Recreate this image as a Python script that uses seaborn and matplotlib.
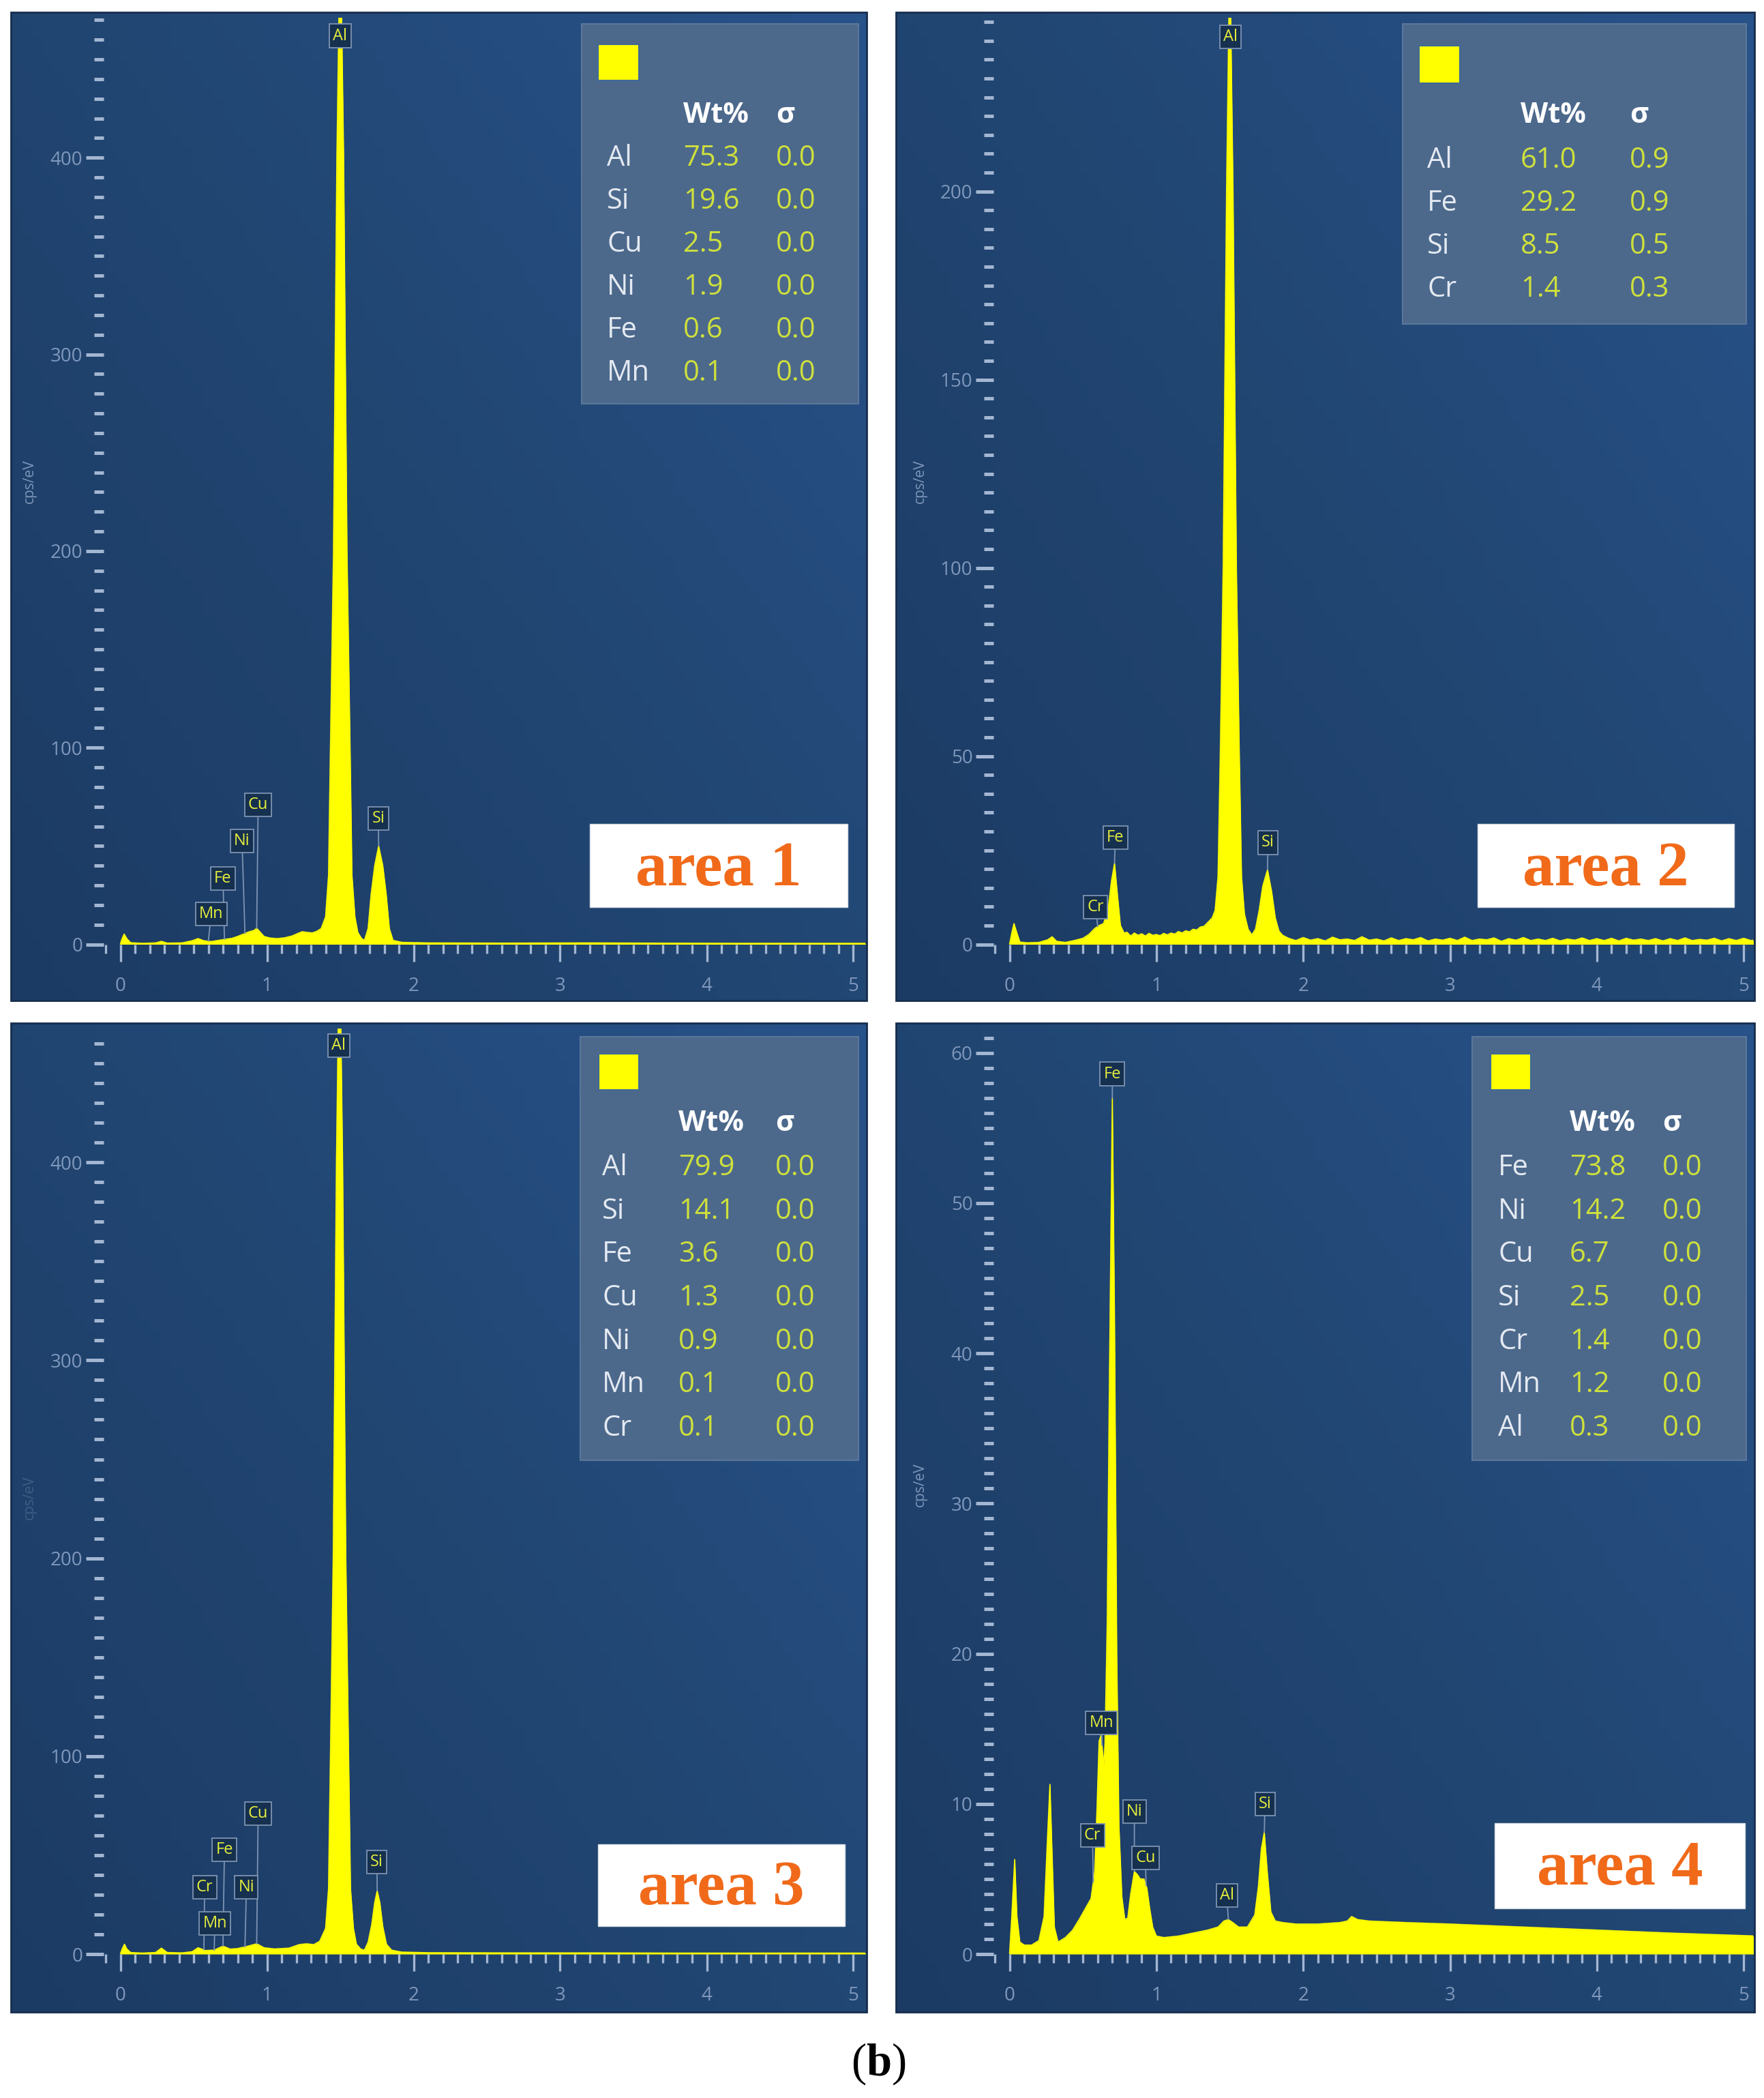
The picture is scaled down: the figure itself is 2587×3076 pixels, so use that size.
import numpy as np
import matplotlib
matplotlib.use("Agg")
import matplotlib.pyplot as plt
from matplotlib.patches import Rectangle
from matplotlib.ticker import MultipleLocator
from matplotlib.colors import LinearSegmentedColormap
import seaborn as sns

# EDS spectra of four areas (energy in keV, intensity in cps/eV)

# area 1
keV1 = [0.00, 0.01, 0.026, 0.045, 0.07, 0.15, 0.24, 0.28, 0.32, 0.42, 0.49, 0.53, 0.57, 0.62, 0.67,
        0.71, 0.76, 0.80, 0.83, 0.86, 0.88, 0.91, 0.93, 0.95, 0.98, 1.02, 1.07, 1.12, 1.17, 1.21,
        1.24, 1.28, 1.31, 1.34, 1.37, 1.40, 1.42, 1.433, 1.454, 1.477, 1.50, 1.523, 1.546, 1.567, 1.58,
        1.60, 1.62, 1.645, 1.665, 1.69, 1.71, 1.735, 1.762, 1.79, 1.814, 1.835, 1.86, 1.92, 2.1, 2.6,
        3.2, 3.6, 4.2, 5.1]
cps1 = [0.0, 2.5, 5.2, 2.8, 0.8, 0.5, 0.7, 1.5, 0.6, 0.7, 1.8, 2.9, 1.8, 1.4, 2.0,
        2.5, 3.0, 4.0, 4.9, 5.8, 6.4, 7.0, 8.1, 6.5, 4.0, 3.2, 2.9, 3.3, 4.2, 5.5,
        6.4, 6.0, 5.8, 6.6, 8.0, 14, 35, 100, 200, 400, 520, 400, 200, 100, 35,
        14, 6, 3, 2, 8, 25, 40, 50, 40, 25, 8, 2, 1.0, 0.7, 0.6,
        0.7, 0.6, 0.5, 0.5]

# area 2
keV2 = [0.00, 0.015, 0.03, 0.05, 0.07, 0.12, 0.20, 0.26, 0.29, 0.32, 0.38, 0.44, 0.50, 0.54, 0.58,
        0.61, 0.64, 0.67, 0.695, 0.715, 0.735, 0.755, 0.78, 0.80, 0.825, 0.85, 0.875, 0.90, 0.925, 0.95,
        0.975, 1.00, 1.025, 1.05, 1.075, 1.10, 1.125, 1.15, 1.175, 1.20, 1.225, 1.25, 1.275, 1.30, 1.325,
        1.35, 1.38, 1.40, 1.42, 1.435, 1.455, 1.478, 1.50, 1.522, 1.545, 1.565, 1.58, 1.60, 1.625, 1.65,
        1.675, 1.70, 1.725, 1.757, 1.785, 1.81, 1.835, 1.86,
        1.90, 1.95, 2.00, 2.05, 2.10, 2.15, 2.20, 2.25, 2.30, 2.35, 2.40, 2.45, 2.50, 2.55, 2.60,
        2.65, 2.70, 2.75, 2.80, 2.85, 2.90, 2.95, 3.00, 3.05, 3.10, 3.15, 3.20, 3.25, 3.30, 3.35,
        3.40, 3.45, 3.50, 3.55, 3.60, 3.65, 3.70, 3.75, 3.80, 3.85, 3.90, 3.95, 4.00, 4.05, 4.10,
        4.15, 4.20, 4.25, 4.30, 4.35, 4.40, 4.45, 4.50, 4.55, 4.60, 4.65, 4.70, 4.75, 4.80, 4.85,
        4.90, 4.95, 5.00, 5.05, 5.10]
cps2 = [0.0, 3.0, 5.5, 3.0, 0.6, 0.4, 0.5, 1.2, 2.0, 0.8, 0.5, 1.0, 1.6, 2.6, 4.2,
        5.0, 5.5, 9.0, 17.0, 21.5, 13.0, 5.0, 3.0, 3.2, 2.2, 3.0, 2.4, 2.8, 2.2, 2.9,
        2.4, 2.6, 2.3, 2.9, 2.5, 3.0, 2.7, 3.4, 3.0, 3.6, 3.3, 4.0, 3.8, 4.6, 4.8,
        5.8, 7.0, 9.0, 18, 50, 100, 200, 265, 200, 100, 50, 18, 8, 4, 2.5,
        4.0, 9.0, 15.5, 19.8, 14.0, 7.0, 3.5, 2.4,
        1.6, 1.0, 1.8, 1.1, 1.5, 0.9, 1.9, 1.2, 1.4, 1.0, 2.0, 1.1, 1.4, 0.9, 1.7,
        1.0, 1.5, 1.2, 1.8, 0.9, 1.4, 1.1, 1.6, 1.0, 1.9, 1.0, 1.4, 1.2, 1.7, 0.8,
        1.5, 1.1, 1.8, 1.0, 1.4, 1.0, 1.6, 0.9, 1.4, 1.1, 1.7, 1.0, 1.5, 1.0, 1.6,
        0.9, 1.6, 1.1, 1.4, 1.0, 1.5, 0.9, 1.5, 1.0, 1.7, 1.0, 1.3, 1.1, 1.6, 0.9,
        1.5, 1.0, 1.6, 1.0, 1.4]

# area 3
keV3 = [0.00, 0.012, 0.028, 0.045, 0.07, 0.15, 0.24, 0.28, 0.32, 0.42, 0.49, 0.53, 0.58, 0.64, 0.70,
        0.75, 0.80, 0.86, 0.93, 0.98, 1.05, 1.15, 1.22, 1.27, 1.32, 1.36, 1.40, 1.42, 1.433, 1.452,
        1.474, 1.495, 1.516, 1.538, 1.557, 1.57, 1.59, 1.61, 1.64, 1.665, 1.69, 1.715, 1.735, 1.752, 1.77,
        1.79, 1.815, 1.85, 1.92, 2.1, 2.6, 3.2, 3.8, 4.4, 5.1]
cps3 = [0.0, 2.5, 5.0, 2.5, 0.8, 0.5, 0.8, 3.0, 0.8, 0.6, 1.2, 3.2, 1.8, 2.0, 4.0,
        2.5, 2.8, 3.8, 5.2, 3.2, 2.6, 3.0, 4.8, 5.2, 4.8, 6.5, 13, 33, 100, 200,
        400, 520, 400, 200, 100, 33, 13, 5, 2.5, 2, 6, 15, 26, 32, 26,
        14, 5, 2, 1.0, 0.7, 0.6, 0.6, 0.5, 0.5, 0.5]

# area 4
keV4 = [0.00, 0.015, 0.035, 0.05, 0.07, 0.10, 0.15, 0.20, 0.235, 0.255, 0.275, 0.29, 0.305, 0.33, 0.38,
        0.43, 0.48, 0.52, 0.555, 0.58, 0.595, 0.61, 0.625, 0.64, 0.65, 0.665, 0.68, 0.70, 0.715, 0.73,
        0.745, 0.765, 0.785, 0.805, 0.825, 0.85, 0.87, 0.89, 0.915, 0.935, 0.955, 0.975, 1.00, 1.05, 1.15,
        1.25, 1.35, 1.42, 1.46, 1.49, 1.52, 1.56, 1.62, 1.67, 1.695, 1.715, 1.735, 1.755, 1.78, 1.81,
        1.86, 1.95, 2.10, 2.25, 2.30, 2.33, 2.37, 2.45, 2.7, 3.0, 3.5, 4.0, 4.5, 5.1]
cps4 = [0.0, 2.5, 6.3, 2.5, 0.8, 0.6, 0.6, 0.9, 2.5, 7.0, 11.3, 6.5, 1.8, 0.8, 1.1,
        1.6, 2.4, 3.1, 3.7, 5.5, 9.5, 14.2, 14.6, 12.5, 14.0, 22.0, 38.0, 57.0, 42.0, 20.0,
        8.5, 3.8, 2.3, 2.4, 4.0, 5.5, 5.3, 5.0, 5.0, 4.4, 3.0, 1.8, 1.2, 1.1, 1.2,
        1.4, 1.6, 1.8, 2.2, 2.3, 2.1, 1.8, 1.8, 2.6, 4.5, 7.0, 8.1, 5.5, 2.8, 2.2,
        2.1, 2.0, 2.0, 2.1, 2.2, 2.5, 2.3, 2.2, 2.1, 2.0, 1.8, 1.6, 1.4, 1.2]

# quantification tables
elems1 = ["Al", "Si", "Cu", "Ni", "Fe", "Mn"]
wt1 = [75.3, 19.6, 2.5, 1.9, 0.6, 0.1]
sig1 = [0.0, 0.0, 0.0, 0.0, 0.0, 0.0]

elems2 = ["Al", "Fe", "Si", "Cr"]
wt2 = [61.0, 29.2, 8.5, 1.4]
sig2 = [0.9, 0.9, 0.5, 0.3]

elems3 = ["Al", "Si", "Fe", "Cu", "Ni", "Mn", "Cr"]
wt3 = [79.9, 14.1, 3.6, 1.3, 0.9, 0.1, 0.1]
sig3 = [0.0, 0.0, 0.0, 0.0, 0.0, 0.0, 0.0]

elems4 = ["Fe", "Ni", "Cu", "Si", "Cr", "Mn", "Al"]
wt4 = [73.8, 14.2, 6.7, 2.5, 1.4, 1.2, 0.3]
sig4 = [0.0, 0.0, 0.0, 0.0, 0.0, 0.0, 0.0]

area_names = ["area 1", "area 2", "area 3", "area 4"]

# peak markers: symbol, line energy, label x, label y
marks1 = [("Al", 1.50, 1.50, 462), ("Si", 1.762, 1.76, 64), ("Cu", 0.93, 0.94, 71),
          ("Ni", 0.85, 0.83, 52.5), ("Fe", 0.71, 0.70, 33.5), ("Mn", 0.60, 0.62, 15.4)]
marks2 = [("Al", 1.50, 1.503, 241), ("Fe", 0.715, 0.72, 28.4), ("Si", 1.757, 1.76, 27.0),
          ("Cr", 0.60, 0.587, 9.9)]
marks3 = [("Al", 1.495, 1.49, 459), ("Si", 1.752, 1.75, 46.5), ("Cu", 0.93, 0.94, 71),
          ("Fe", 0.70, 0.71, 52.7), ("Cr", 0.57, 0.575, 33.7), ("Ni", 0.85, 0.86, 33.7),
          ("Mn", 0.64, 0.645, 15.5)]
marks4 = [("Fe", 0.70, 0.70, 58.6), ("Mn", 0.63, 0.625, 15.4), ("Cr", 0.57, 0.565, 7.9),
          ("Ni", 0.85, 0.85, 9.5), ("Cu", 0.93, 0.925, 6.4), ("Al", 1.49, 1.48, 3.9),
          ("Si", 1.735, 1.74, 10.0)]

sns.set_style("dark")
plt.rcParams['font.family'] = ['Open Sans', 'DejaVu Sans']
plt.rcParams['mathtext.fontset'] = 'custom'
plt.rcParams['mathtext.rm'] = 'Liberation Serif'
plt.rcParams['mathtext.bf'] = 'Liberation Serif:bold'

W, H = 2587, 3076
fig = plt.figure(figsize=(W / 100, H / 100), dpi=100, facecolor='white')


def fx(x):
    return x / W


def fy(y):
    return 1 - y / H


YELLOW = '#ffff00'
TICK_C = '#a3b6d2'
LAB_C = '#7f97bb'
MARK_C = '#e6ee3c'
bg_cmap = LinearSegmentedColormap.from_list('bg', ['#1c3b64', '#214672', '#28528a'])
yy, xx = np.mgrid[0:1:80j, 0:1:80j]
grad = 0.55 * xx + 0.45 * yy

panels = [
    dict(keV=keV1, cps=cps1, elems=elems1, wt=wt1, sig=sig1, marks=marks1, name=area_names[0],
         rect=(16, 18, 1271, 1467), axleft=152, zero=(176.5, 1384.5), kev_px=215.0, unit_px=2.883,
         major=100, minor=10, ylab=(43, 706), ylab_alpha=1.0,
         box=(853, 35, 1259, 592), sq=(877, 65, 937, 118), xcols=(890, 1002, 1138),
         yhead=169, yrow=232, step=63, abox=(865, 1208, 1243, 1330), abase=1298),
    dict(keV=keV2, cps=cps2, elems=elems2, wt=wt2, sig=sig2, marks=marks2, name=area_names[1],
         rect=(1314, 18, 2573, 1467), axleft=1457, zero=(1480.6, 1384.5), kev_px=215.3, unit_px=5.52,
         major=50, minor=5, ylab=(1349, 706), ylab_alpha=1.0,
         box=(2057, 35, 2561, 475), sq=(2081, 67, 2141, 122), xcols=(2093, 2230, 2390),
         yhead=169, yrow=235, step=63, abox=(2167, 1208, 2543, 1330), abase=1298),
    dict(keV=keV3, cps=cps3, elems=elems3, wt=wt3, sig=sig3, marks=marks3, name=area_names[2],
         rect=(16, 1500, 1271, 2950), axleft=152, zero=(176.5, 2865), kev_px=215.0, unit_px=2.902,
         major=100, minor=10, ylab=(43, 2196), ylab_alpha=0.35,
         box=(851, 1520, 1259, 2141), sq=(878, 1545, 937, 1598), xcols=(883, 995, 1137),
         yhead=1647, yrow=1712, step=63.7, abox=(877, 2704, 1239, 2824), abase=2792),
    dict(keV=keV4, cps=cps4, elems=elems4, wt=wt4, sig=sig4, marks=marks4, name=area_names[3],
         rect=(1314, 1500, 2573, 2950), axleft=1457, zero=(1480.6, 2865), kev_px=215.3, unit_px=22.02,
         major=10, minor=1, ylab=(1349, 2177), ylab_alpha=1.0,
         box=(2159, 1520, 2561, 2141), sq=(2186, 1545, 2245, 1598), xcols=(2197, 2302, 2438),
         yhead=1647, yrow=1712, step=63.7, abox=(2192, 2673, 2559, 2798), abase=2763),
]

for p in panels:
    l, t, r, b = p['rect']
    # panel background
    bg = fig.add_axes([fx(l), fy(b), (r - l) / W, (b - t) / H], zorder=-2)
    bg.imshow(grad, cmap=bg_cmap, aspect='auto', extent=(0, 1, 0, 1), origin='lower')
    bg.set_axis_off()
    fig.add_artist(Rectangle((fx(l), fy(b)), (r - l) / W, (b - t) / H, transform=fig.transFigure,
                             fill=False, ec='#162d4d', lw=2.0, zorder=-1))

    # spectrum axes
    axl, axr, axt = p['axleft'], r - 2, t + 8
    zx, zy = p['zero']
    ax = fig.add_axes([fx(axl), fy(zy), (axr - axl) / W, (zy - axt) / H])
    ax.set_facecolor('none')
    xmin, xmax = (axl - zx) / p['kev_px'], (axr - zx) / p['kev_px']
    ymax = (zy - axt) / p['unit_px']

    sns.lineplot(x=p['keV'], y=p['cps'], ax=ax, color=YELLOW, lw=1.2, estimator=None, sort=False)
    ax.fill_between(p['keV'], p['cps'], 0, color=YELLOW, lw=0)
    ax.set_xlim(xmin, xmax)
    ax.set_ylim(0, ymax)
    ax.grid(False)
    for s in ax.spines.values():
        s.set_visible(False)

    ax.xaxis.set_major_locator(MultipleLocator(1))
    ax.xaxis.set_minor_locator(MultipleLocator(0.1))
    ax.yaxis.set_major_locator(MultipleLocator(p['major']))
    ax.yaxis.set_minor_locator(MultipleLocator(p['minor']))
    ax.tick_params(which='both', bottom=True, left=True, direction='out', color=TICK_C,
                   labelcolor=LAB_C, labelsize=20)
    ax.tick_params(axis='x', which='major', length=18, width=2.4, pad=16)
    ax.tick_params(axis='x', which='minor', length=9, width=2.4)
    ax.tick_params(axis='y', which='major', length=19, width=3.6, pad=3)
    ax.tick_params(axis='y', which='minor', length=10, width=3.6)
    ax.set_xlabel('')
    ax.set_ylabel('')

    # peak markers
    for sym, e, lx, ly in p['marks']:
        py = min(np.interp(e, p['keV'], p['cps']), ymax * 0.97)
        ax.annotate(sym, xy=(e, py), xytext=(lx, ly), ha='center', va='center', fontsize=17,
                    color=MARK_C, annotation_clip=False, zorder=4,
                    bbox=dict(boxstyle='square,pad=0.22', fc='#16304f', ec='#7d93b3', lw=1.3),
                    arrowprops=dict(arrowstyle='-', color='#7d93b3', lw=1.3, shrinkA=0, shrinkB=0))

    fig.text(fx(p['ylab'][0]), fy(p['ylab'][1]), 'cps/eV', rotation=90, ha='center', va='center',
             fontsize=15, color=LAB_C, alpha=p['ylab_alpha'])

    # quantification table
    bl, bt, br, bb = p['box']
    fig.add_artist(Rectangle((fx(bl), fy(bb)), (br - bl) / W, (bb - bt) / H, transform=fig.transFigure,
                             fc='#4c698c', ec='#5b7799', lw=1.5, zorder=2))
    sl, st, sr, sb = p['sq']
    fig.add_artist(Rectangle((fx(sl), fy(sb)), (sr - sl) / W, (sb - st) / H, transform=fig.transFigure,
                             fc=YELLOW, ec='#3f6a96', lw=1.5, zorder=2.5))
    xe, xv, xs = p['xcols']
    fig.text(fx(xv), fy(p['yhead']), 'Wt%', fontsize=30, fontweight='bold', color='white',
             ha='left', va='center', zorder=3)
    fig.text(fx(xs), fy(p['yhead']), 'σ', fontsize=30, fontweight='bold', color='white',
             ha='left', va='center', zorder=3)
    for i, (el, w, sg) in enumerate(zip(p['elems'], p['wt'], p['sig'])):
        yr = fy(p['yrow'] + i * p['step'])
        fig.text(fx(xe), yr, el, fontsize=30, color='#e4e9f1', ha='left', va='center', zorder=3)
        fig.text(fx(xv), yr, f"{w:.1f}", fontsize=30, color='#cfe03c', ha='left', va='center', zorder=3)
        fig.text(fx(xs), yr, f"{sg:.1f}", fontsize=30, color='#cfe03c', ha='left', va='center', zorder=3)

    # area label
    al, at, ar, ab = p['abox']
    fig.add_artist(Rectangle((fx(al), fy(ab)), (ar - al) / W, (ab - at) / H, transform=fig.transFigure,
                             fc='white', ec='#d8dde5', lw=1.0, zorder=2))
    fig.text(fx((al + ar) / 2), fy(p['abase']), p['name'], family='Liberation Serif', fontweight='bold',
             fontsize=67, color='#f06a1a', ha='center', va='baseline', zorder=3)

fig.text(fx(1288), fy(3026), r"($\mathbf{b}$)", family='Liberation Serif', fontsize=48,
         ha='center', va='center', color='black')

fig.savefig('out.png', dpi=100, facecolor='white')
